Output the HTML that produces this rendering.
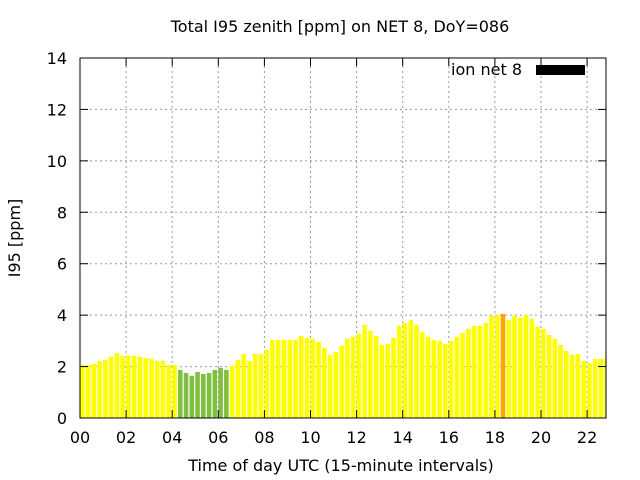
<!DOCTYPE html>
<html><head><meta charset="utf-8"><style>
body{margin:0;background:#fff}
svg{display:block;font-family:"DejaVu Sans","Liberation Sans",sans-serif}
</style></head><body>
<svg id="c" width="640" height="480">
<text x="340" y="32" font-size="16" text-anchor="middle">Total I95 zenith [ppm] on NET 8, DoY=086</text>
<text x="341" y="471" font-size="16" text-anchor="middle">Time of day UTC (15-minute intervals)</text>
<text transform="translate(20,238) rotate(-90)" font-size="16" text-anchor="middle">I95 [ppm]</text>
<g id="grid"></g><g id="bars"></g><g id="axes"></g>
<text x="522" y="75" font-size="16" text-anchor="end">ion net 8</text>
<rect x="536" y="65" width="49" height="10" fill="#000"/>
</svg>
<script>
const values=[2.06,2.06,2.1,2.22,2.26,2.38,2.53,2.42,2.42,2.42,2.38,2.34,2.3,2.22,2.22,2.06,2.06,
1.87,1.75,1.64,1.79,1.71,1.75,1.87,1.95,1.87,
2.03,2.26,2.49,2.22,2.49,2.49,2.65,3.04,3.04,3.04,3.04,3.04,3.19,3.12,3.08,2.96,2.73,2.45,2.57,2.81,3.08,
3.16,3.27,3.62,3.39,3.19,2.84,2.88,3.12,3.58,3.7,3.82,3.62,3.35,3.16,3.04,3.0,2.88,3.0,3.16,3.31,3.47,3.58,3.58,3.7,3.97,4.01,4.05,3.82,3.97,3.9,4.01,3.86,3.55,3.47,3.23,3.08,2.84,2.61,2.45,2.49,2.22,2.14,2.3,2.3,2.34];
const colors=values.map((v,i)=>i>=17&&i<=25?'#80c040':(i===73?'#ffa500':'#ffff00'));
const xTicks=['00','02','04','06','08','10','12','14','16','18','20','22'];
const yTicks=[0,2,4,6,8,10,12,14];
const X0=80,X1=606,Y0=418,Y1=58,XMAX=22.82,YMAX=14;
const xs=h=>X0+h/XMAX*(X1-X0), ys=v=>Y0-v/YMAX*(Y0-Y1);
const NS='http://www.w3.org/2000/svg';
function mk(t,a,p){const e=document.createElementNS(NS,t);for(const k in a)e.setAttribute(k,a[k]);p.appendChild(e);return e;}
const grid=document.getElementById('grid'),bars=document.getElementById('bars'),axes=document.getElementById('axes');
yTicks.forEach(v=>{const y=ys(v);
 if(v>0&&v<YMAX){const g=mk('line',{x1:X0,x2:X1,y1:y,y2:y,stroke:'#999','stroke-dasharray':'2,3'},grid);
 
 }
 mk('line',{x1:X0,x2:X0+8,y1:y,y2:y,stroke:'#000'},axes);
 mk('line',{x1:X1,x2:X1-8,y1:y,y2:y,stroke:'#000'},axes);
 const t=mk('text',{x:X0-13,y:y+6,'font-size':16,'text-anchor':'end'},axes);t.textContent=v;
 
 
});
xTicks.forEach((s,i)=>{const x=xs(+s);
 if(i>0){const g=mk('line',{x1:x,x2:x,y1:Y0,y2:Y1,stroke:'#999','stroke-dasharray':'2,3'},grid);
 
 }
 mk('line',{x1:x,x2:x,y1:Y0,y2:Y0-8,stroke:'#000'},axes);
 mk('line',{x1:x,x2:x,y1:Y1,y2:Y1+8,stroke:'#000'},axes);
 const t=mk('text',{x:x,y:Y0+25,'font-size':16,'text-anchor':'middle'},axes);t.textContent=s;
 
 
});
values.forEach((v,i)=>{const c=xs(i*0.25+0.1);let l=Math.max(c-2.3,X0),r=Math.min(c+2.3,X1);
 const b=mk('rect',{x:l,y:ys(v),width:r-l,height:Y0-ys(v),fill:colors[i]},bars);
 
 
});
const fr=mk('rect',{x:X0,y:Y1,width:X1-X0,height:Y0-Y1,fill:'none',stroke:'#000','stroke-width':1},axes);


</script>
</body></html>
